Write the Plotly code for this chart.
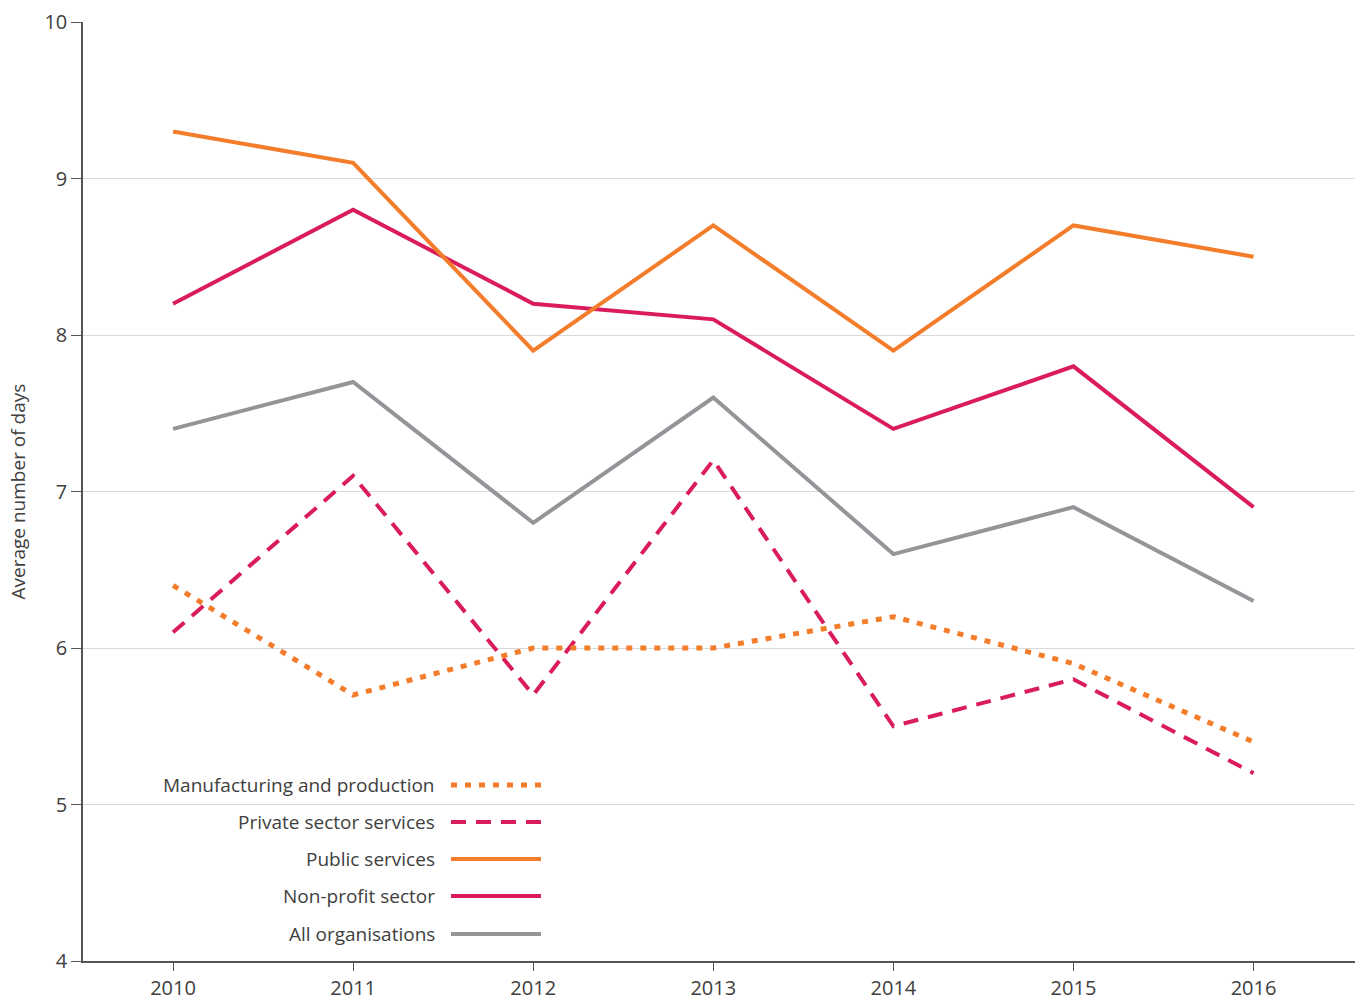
import plotly.graph_objects as go

years = [2010, 2011, 2012, 2013, 2014, 2015, 2016]
manufacturing = [6.4, 5.7, 6.0, 6.0, 6.2, 5.9, 5.4]
private_sector = [6.1, 7.1, 5.7, 7.2, 5.5, 5.8, 5.2]
public_services = [9.3, 9.1, 7.9, 8.7, 7.9, 8.7, 8.5]
non_profit = [8.2, 8.8, 8.2, 8.1, 7.4, 7.8, 6.9]
all_orgs = [7.4, 7.7, 6.8, 7.6, 6.6, 6.9, 6.3]

ORANGE = "#F47D2B"
CRIMSON = "#DA1D5A"
GREY = "#949598"
TEXT = "#404040"
FONT = "Open Sans"

series = [
    ("Manufacturing and production", manufacturing, ORANGE, "6px,8px"),
    ("Private sector services", private_sector, CRIMSON, "15px,10px"),
    ("Public services", public_services, ORANGE, "solid"),
    ("Non-profit sector", non_profit, CRIMSON, "solid"),
    ("All organisations", all_orgs, GREY, "solid"),
]

fig = go.Figure()
for name, vals, col, dash in [series[4], series[3], series[2], series[1], series[0]]:
    w = 5 if dash == "6px,8px" else 4
    fig.add_trace(go.Scatter(x=years, y=vals, mode="lines", name=name,
                             line=dict(color=col, width=w, dash=dash),
                             showlegend=False))

# custom legend: text on left, line sample on right
leg_y = [0.1874, 0.148, 0.1086, 0.0692, 0.0288]
for (name, vals, col, dash), yy in zip(series, leg_y):
    fig.add_annotation(x=0.2776, y=yy, xref="paper", yref="paper", text=name,
                       showarrow=False, xanchor="right", yanchor="middle",
                       font=dict(family=FONT, size=19, color=TEXT))
    fig.add_shape(type="line", xref="paper", yref="paper",
                  x0=0.2886, x1=0.3592, y0=yy, y1=yy,
                  line=dict(color=col, width=5 if dash == "6px,8px" else 4, dash=dash))

fig.add_annotation(x=-0.051, y=0.5, xref="paper", yref="paper",
                   text="Average number of days", textangle=-90, showarrow=False,
                   xanchor="center", yanchor="middle",
                   font=dict(family=FONT, size=19, color=TEXT))

fig.update_layout(
    width=1355, height=992,
    margin=dict(l=75, r=5, t=14, b=39),
    plot_bgcolor="white", paper_bgcolor="white",
    font=dict(family=FONT, size=19, color=TEXT),
    showlegend=False,
    xaxis=dict(range=[2009.5, 2016.58], tickvals=years, ticktext=[str(y) for y in years],
               showgrid=False, showline=True, linecolor="#555555", linewidth=1.5,
               ticks="outside", ticklen=8, tickcolor="#555555", tickwidth=1.2,
               tickfont=dict(family=FONT, size=20, color=TEXT), zeroline=False,
               automargin=False),
    yaxis=dict(range=[4, 10], tickvals=[4, 5, 6, 7, 8, 9, 10], showgrid=True,
               gridcolor="#D9D9D9", gridwidth=1.2, showline=True, linecolor="#555555",
               linewidth=1.5, ticks="outside", ticklen=10, tickcolor="#555555", tickwidth=1.2,
               tickfont=dict(family=FONT, size=20, color=TEXT), zeroline=False,
               automargin=False),
)

fig.write_html("out.html")
